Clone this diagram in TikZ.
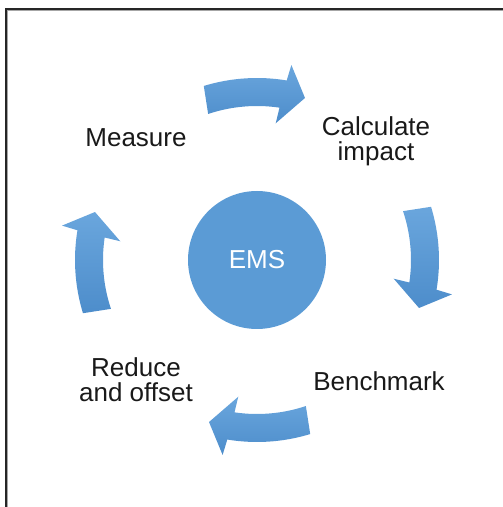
\documentclass[tikz,border=0pt]{standalone}
\usepackage{fontspec}
\setmainfont{Liberation Sans}
\definecolor{emsblue}{HTML}{5B9BD5}
\definecolor{arrtop}{HTML}{6AA6DD}
\definecolor{arrbot}{HTML}{4D8DCB}
\begin{document}
\begin{tikzpicture}[x=1pt,y=1pt,
  lbl/.style={font=\fontsize{26}{25}\selectfont, align=center, inner sep=0pt, text=black!90},
  cyc/.style={top color=arrtop, bottom color=arrbot, draw=none}]
\useasboundingbox (0,0) rectangle (503,507);
% frame
\fill[black!85] (5,0) rectangle (7,498.5);
\fill[black!85] (5,496.5) rectangle (503,498.5);
\fill[black!35] (7,0) rectangle (8,496.5);
\fill[black!35] (7,495.5) rectangle (503,496.5);
% centre
\coordinate (C) at (257,247);
\node[circle, fill=emsblue, minimum size=138pt, inner sep=0pt, text=white,
      font=\fontsize{26}{26}\selectfont] (ems) at (C) {EMS};
% cycle arrows
\foreach \k in {0,1,2,3}{
  \pgfmathsetmacro\o{-90*\k}
  \begin{scope}[shift={(C)}]
    \path[cyc] ({107+\o}:182) arc[start angle={107+\o}, end angle={80.6+\o}, radius=182]
      -- ({80+\o}:198) -- ({73.5+\o}:169) -- ({82.2+\o}:138) -- ({81.6+\o}:154)
      arc[start angle={81.6+\o}, end angle={108.5+\o}, radius=154] -- cycle;
  \end{scope}
}
% labels
\node[lbl] (measure) at (136,369) {Measure};
\node[lbl] (calc) at (376,366) {Calculate\\impact};
\node[lbl] (bench) at (379,126) {Benchmark};
\node[lbl] (reduce) at (136,127) {Reduce\\and offset};
\end{tikzpicture}
\end{document}
